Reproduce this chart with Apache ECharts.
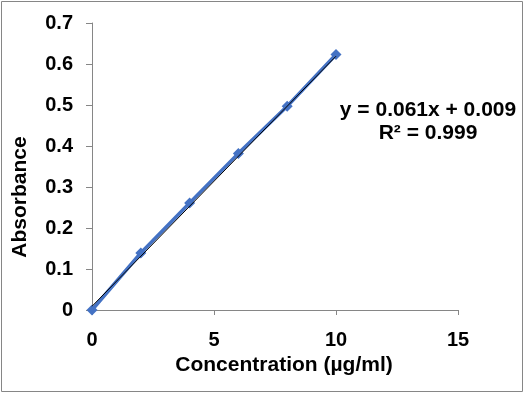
<!DOCTYPE html>
<html>
<head>
<meta charset="utf-8">
<script src="https://cdn.jsdelivr.net/npm/echarts@6/dist/echarts.min.js"></script>
<style>
html,body{margin:0;padding:0;background:#fff;}
#chart{width:525px;height:394px;}
</style>
</head>
<body>
<div id="chart"></div>
<script>
var concentration = [0, 2, 4, 6, 8, 10];
var absorbance = [0, 0.139, 0.261, 0.382, 0.497, 0.623];
var trendX = [0, 10];
var trendY = [0.009, 0.619];
var xTicks = [0, 5, 10, 15];
var yTicks = [0, 0.1, 0.2, 0.3, 0.4, 0.5, 0.6, 0.7];
var equationText = 'y = 0.061x + 0.009';
var r2Text = 'R² = 0.999';
var xTitle = 'Concentration (µg/ml)';
var yTitle = 'Absorbance';

var font = '"Liberation Sans", Arial, sans-serif';
var axisGray = '#868686';

var chart = echarts.init(document.getElementById('chart'), null, {renderer: 'canvas'});
chart.setOption({
  animation: false,
  backgroundColor: '#ffffff',
  grid: {left: 92, right: 67, top: 23, bottom: 84, containLabel: false},
  xAxis: {
    type: 'value',
    min: xTicks[0],
    max: xTicks[xTicks.length - 1],
    interval: xTicks[1] - xTicks[0],
    name: xTitle,
    nameLocation: 'middle',
    nameGap: 41,
    nameTextStyle: {fontFamily: font, fontWeight: 'bold', fontSize: 21, color: '#000', padding: [0, 0, 0, 18]},
    axisLine: {show: true, lineStyle: {color: axisGray, width: 1}},
    axisTick: {show: true, inside: false, length: 5, lineStyle: {color: axisGray}},
    axisLabel: {margin: 20, fontFamily: font, fontWeight: 'bold', fontSize: 20, color: '#000'},
    splitLine: {show: false}
  },
  yAxis: {
    type: 'value',
    min: yTicks[0],
    max: yTicks[yTicks.length - 1],
    interval: 0.1,
    axisLine: {show: true, lineStyle: {color: axisGray, width: 1}},
    axisTick: {show: true, inside: false, length: 6, lineStyle: {color: axisGray}},
    axisLabel: {margin: 19, fontFamily: font, fontWeight: 'bold', fontSize: 20, color: '#000',
      formatter: function (v) { return String(Math.round(v * 10) / 10); }},
    splitLine: {show: false}
  },
  series: [
    {
      type: 'line',
      data: concentration.map(function (x, i) { return [x, absorbance[i]]; }),
      symbol: 'diamond',
      symbolSize: 11,
      lineStyle: {color: '#4472C4', width: 3.5},
      itemStyle: {color: '#4472C4'},
      z: 2
    },
    {
      type: 'line',
      data: trendX.map(function (x, i) { return [x, trendY[i]]; }),
      symbol: 'none',
      lineStyle: {color: '#000000', width: 1},
      z: 3
    }
  ],
  graphic: [
    {
      type: 'rect',
      shape: {x: 1.5, y: 1.5, width: 521, height: 390},
      style: {fill: 'none', stroke: axisGray, lineWidth: 1},
      silent: true
    },
    {
      type: 'text',
      x: 20, y: 197,
      rotation: Math.PI / 2,
      style: {text: yTitle, font: 'bold 21px ' + font, fill: '#000', align: 'center', verticalAlign: 'middle'}
    },
    {
      type: 'text',
      x: 428, y: 110,
      style: {text: equationText, font: 'bold 21px ' + font, fill: '#000', align: 'center', verticalAlign: 'middle'}
    },
    {
      type: 'text',
      x: 428, y: 133,
      style: {text: r2Text, font: 'bold 21px ' + font, fill: '#000', align: 'center', verticalAlign: 'middle'}
    }
  ]
});
</script>
</body>
</html>
